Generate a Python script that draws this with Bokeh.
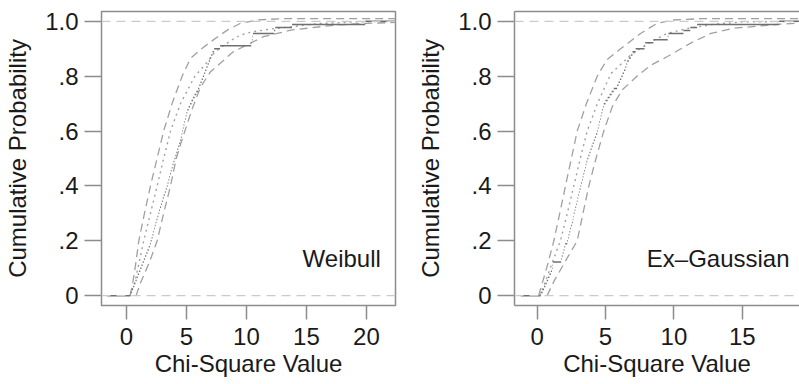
from bokeh.plotting import figure
from bokeh.models import Range1d, FixedTicker, Span, Label, LinearAxis
from bokeh.layouts import row
from bokeh.embed import file_html
from bokeh.resources import INLINE

# ---------------- data ----------------
panel_names = ["Weibull", "Ex\u2013Gaussian"]
x_ticks = [0, 5, 10, 15, 20]
y_ticks = [0, 0.2, 0.4, 0.6, 0.8, 1.0]
y_tick_labels = [".2", ".4", ".6", ".8"]

# sorted observed chi-square values (empirical CDF)
weibull_values = [0.33, 0.45, 0.55, 0.65, 0.75, 0.85, 0.95, 1.05, 1.15, 1.25,
                  1.35, 1.45, 1.55, 1.65, 1.75, 1.86, 1.95, 2.02, 2.10, 2.17,
                  2.24, 2.30, 2.36, 2.43, 2.50, 2.58, 2.66, 2.73, 2.80, 2.88,
                  2.95, 3.03, 3.11, 3.20, 3.28, 3.36, 3.43, 3.50, 3.57, 3.63,
                  3.70, 3.77, 3.84, 3.92, 4.00, 4.08, 4.16, 4.24, 4.32, 4.40,
                  4.48, 4.54, 4.60, 4.65, 4.70, 4.76, 4.82, 4.88, 4.94, 5.00,
                  5.07, 5.18, 5.30, 5.42, 5.55, 5.68, 5.82, 5.97, 6.07, 6.17,
                  6.27, 6.37, 6.47, 6.56, 6.66, 6.76, 6.86, 6.96, 7.06, 7.17,
                  7.30, 7.80, 10.40, 10.45, 10.50, 10.55, 12.30, 12.40, 13.80, 19.90]
exgauss_values = [0.25, 0.40, 0.50, 0.60, 0.70, 0.80, 0.90, 1.00, 1.08, 1.12,
                  1.15, 1.75, 1.80, 1.87, 1.93, 1.99, 2.05, 2.20, 2.25, 2.30,
                  2.36, 2.42, 2.48, 2.54, 2.60, 2.64, 2.68, 2.74, 2.79, 2.85,
                  2.90, 2.95, 3.00, 3.05, 3.10, 3.17, 3.22, 3.28, 3.33, 3.38,
                  3.44, 3.50, 3.55, 3.60, 3.66, 3.74, 3.82, 3.90, 3.98, 4.06,
                  4.14, 4.22, 4.30, 4.39, 4.44, 4.49, 4.54, 4.60, 4.65, 4.70,
                  4.76, 4.82, 4.87, 5.00, 5.15, 5.30, 5.45, 5.60, 5.85, 5.95,
                  6.05, 6.15, 6.25, 6.35, 6.45, 6.52, 6.58, 6.70, 6.85, 6.97,
                  7.20, 7.85, 7.90, 8.50, 9.55, 9.60, 10.70, 11.20, 11.70, 17.70]
ecdf_start = [-1.6, -1.2]

# upper and lower envelope (dashed) and reference CDF (dotted)
weibull_upper_x = [0.3, 0.5, 0.75, 1.03, 1.5, 2.0, 2.55, 3.1, 3.8, 4.64, 5.33, 6.17, 7.0, 8.4, 9.5, 10.9, 13.0, 22.4]
weibull_upper_y = [0.0, 0.04, 0.11, 0.2, 0.3, 0.4, 0.5, 0.6, 0.7, 0.8, 0.865, 0.897, 0.925, 0.968, 0.993, 1.005, 1.01, 1.01]
weibull_lower_x = [0.8, 1.2, 1.9, 2.56, 3.1, 3.67, 4.15, 4.64, 5.47, 6.17, 7.0, 8.9, 11.4, 13.7, 17.3, 20.0, 22.4]
weibull_lower_y = [0.0, 0.05, 0.12, 0.2, 0.3, 0.4, 0.5, 0.57, 0.68, 0.76, 0.816, 0.889, 0.944, 0.968, 0.986, 0.993, 0.996]
weibull_ref_x = [0.3, 0.7, 1.05, 1.44, 2.0, 2.56, 3.1, 3.67, 4.5, 5.7, 6.6, 7.4, 8.7, 9.5, 10.5, 12.0, 13.7, 16.0, 19.0, 22.4]
weibull_ref_y = [0.0, 0.05, 0.12, 0.2, 0.3, 0.4, 0.5, 0.6, 0.7, 0.8, 0.845, 0.89, 0.93, 0.95, 0.962, 0.972, 0.98, 0.992, 0.998, 1.0]

exgauss_upper_x = [0.1, 0.4, 0.8, 1.22, 1.65, 2.07, 2.5, 2.93, 3.6, 4.39, 5.1, 6.1, 7.56, 8.78, 10.0, 12.0, 19.5]
exgauss_upper_y = [0.0, 0.05, 0.12, 0.2, 0.3, 0.4, 0.5, 0.6, 0.7, 0.8, 0.86, 0.9, 0.956, 0.993, 1.005, 1.01, 1.01]
exgauss_lower_x = [0.73, 1.2, 2.0, 2.93, 3.35, 3.78, 4.3, 4.87, 5.5, 6.22, 7.3, 8.3, 9.5, 11.2, 12.7, 14.4, 17.8, 19.5]
exgauss_lower_y = [0.0, 0.05, 0.12, 0.2, 0.3, 0.4, 0.5, 0.6, 0.69, 0.75, 0.8, 0.84, 0.871, 0.92, 0.956, 0.975, 0.99, 0.994]
exgauss_ref_x = [0.2, 0.6, 1.1, 1.7, 2.2, 2.68, 3.15, 3.66, 4.4, 5.4, 6.83, 8.3, 9.5, 11.0, 13.0, 15.0, 19.5]
exgauss_ref_y = [0.0, 0.05, 0.12, 0.2, 0.3, 0.4, 0.5, 0.6, 0.7, 0.81, 0.877, 0.925, 0.956, 0.974, 0.99, 0.998, 1.0]

# ---------------- style ----------------
FONT = "Liberation Sans"
FS = "24px"
TXT = "#1a1a1a"
FRAME = "#8c8c8c"
BAND = "#a0a0a0"
REF = "#a0a0a0"
ECDF = "#707070"
HLINE = "#cacaca"


def panel(name, values, start, ux, uy, lx, ly, rx, ry, xr, width, border_left, label_x, open_right):
    p = figure(width=width, height=384, x_range=Range1d(*xr), y_range=Range1d(-0.036, 1.036),
               output_backend="svg", toolbar_location=None,
               min_border_left=border_left, min_border_right=0 if open_right else 5,
               min_border_top=11, min_border_bottom=79)
    p.grid.visible = False
    p.background_fill_color = "white"
    p.border_fill_color = "white"

    # reference lines at 0 and 1
    for v in (0.0, 1.0):
        p.add_layout(Span(location=v, dimension="width", line_color=HLINE,
                          line_dash="9 6", line_width=1.4))

    # envelopes and reference CDF
    p.line(ux, uy, line_color=BAND, line_dash="8 5", line_width=1.3)
    p.line(lx, ly, line_color=BAND, line_dash="8 5", line_width=1.3)
    p.line(rx, ry, line_color=REF, line_dash="2 4", line_width=1.4)

    # empirical CDF as horizontal steps only
    n = len(values)
    x0 = [start] + values
    x1 = values + [xr[1]]
    ys = [0.0] + [(i + 1) / n for i in range(n)]
    p.segment(x0=x0, y0=ys, x1=x1, y1=ys, line_color=ECDF, line_width=1.5)

    p.add_layout(Label(x=label_x, y=0.135, text=name, text_align="right",
                       text_baseline="middle", text_font=FONT, text_font_size=FS,
                       text_color=TXT))

    # axes
    p.xaxis.ticker = FixedTicker(ticks=x_ticks)
    p.yaxis.ticker = FixedTicker(ticks=y_ticks)
    overrides = {0.0: "0", 1.0: "1.0"}
    for t, lab in zip(y_ticks[1:-1], y_tick_labels):
        overrides[t] = lab
    p.yaxis.major_label_overrides = overrides
    p.xaxis.axis_label = "Chi-Square Value"
    p.yaxis.axis_label = "Cumulative Probability"
    for ax in (p.xaxis[0], p.yaxis[0]):
        ax.major_label_text_font = FONT
        ax.major_label_text_font_size = FS
        ax.major_label_text_color = TXT
        ax.axis_label_text_font = FONT
        ax.axis_label_text_font_size = FS
        ax.axis_label_text_font_style = "normal"
        ax.axis_label_text_color = TXT
        ax.major_tick_line_color = FRAME
        ax.major_tick_line_width = 1.5
        ax.major_tick_in = 0
        ax.minor_tick_line_color = None
    p.xaxis.major_tick_out = 14
    p.yaxis.major_tick_out = 17
    p.xaxis.major_label_standoff = 8
    p.yaxis.major_label_standoff = 6
    p.xaxis.axis_label_standoff = 2
    p.yaxis.axis_label_standoff = 11
    p.yaxis.major_label_orientation = "horizontal"

    if open_right:
        p.outline_line_color = None
        p.xaxis.axis_line_color = FRAME
        p.xaxis.axis_line_width = 1.5
        p.yaxis.axis_line_color = FRAME
        p.yaxis.axis_line_width = 1.5
        top = LinearAxis(ticker=FixedTicker(ticks=[]), axis_line_color=FRAME, axis_line_width=1.5,
                         major_tick_out=0, major_tick_in=0, minor_tick_line_color=None,
                         major_label_text_alpha=0)
        p.add_layout(top, "above")
    else:
        p.outline_line_color = FRAME
        p.outline_line_width = 1.5
        p.xaxis.axis_line_color = None
        p.yaxis.axis_line_color = None
    return p


p1 = panel(panel_names[0], weibull_values, ecdf_start[0],
           weibull_upper_x, weibull_upper_y, weibull_lower_x, weibull_lower_y,
           weibull_ref_x, weibull_ref_y, (-2.08, 22.42), 400, 101, 21.2, False)
p2 = panel(panel_names[1], exgauss_values, ecdf_start[1],
           exgauss_upper_x, exgauss_upper_y, exgauss_lower_x, exgauss_lower_y,
           exgauss_ref_x, exgauss_ref_y, (-1.66, 19.19), 399, 114, 18.46, True)

layout = row(p1, p2, spacing=0)
open("out.html", "w").write(file_html(layout, INLINE))
